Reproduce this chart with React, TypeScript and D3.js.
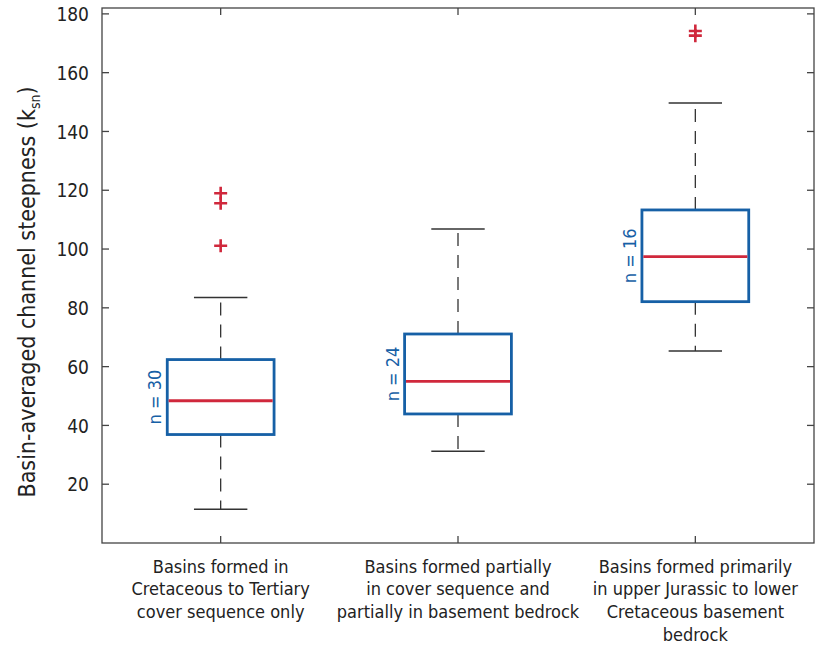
import { useEffect, useRef } from 'react';
import * as d3 from 'd3';

// category labels (one string per line)
const categories = [
  ['Basins formed in', 'Cretaceous to Tertiary', 'cover sequence only'],
  ['Basins formed partially', 'in cover sequence and', 'partially in basement bedrock'],
  ['Basins formed primarily', 'in upper Jurassic to lower', 'Cretaceous basement', 'bedrock'],
];
const counts = [30, 24, 16];
const lowerWhisker = [11.5, 31.2, 65.3];
const q1 = [36.9, 43.9, 82.1];
const medians = [48.4, 55.0, 97.4];
const q3 = [62.4, 71.1, 113.3];
const upperWhisker = [83.5, 106.8, 149.7];
const outliers = [[119.0, 115.6, 101.1], [], [174.2, 172.6]];
const yTicks = [20, 40, 60, 80, 100, 120, 140, 160, 180];

const W = 817;
const H = 646;
const FONT = "'DejaVu Sans Condensed', 'DejaVu Sans', sans-serif";
const BLUE = '#1660a6';
const RED = '#d0283c';

export default function App() {
  const svgRef = useRef<SVGSVGElement>(null);

  useEffect(() => {
    if (!svgRef.current) return;
    const svg = d3.select(svgRef.current);
    svg.selectAll('*').remove();

    const left = 102, right = 814, top = 8, bottom = 543;
    const x = d3.scaleLinear().domain([0.5, 3.5]).range([left, right]);
    const y = d3.scaleLinear().domain([0, 182]).range([bottom, top]);
    const boxW = x(1.45) - x(1);
    const capW = boxW / 2;

    // frame
    svg.append('rect')
      .attr('x', left).attr('y', top)
      .attr('width', right - left).attr('height', bottom - top)
      .attr('fill', 'none').attr('stroke', '#444').attr('stroke-width', 1.3);

    // y ticks both sides
    yTicks.forEach(t => {
      svg.append('line').attr('x1', left).attr('x2', left + 7)
        .attr('y1', y(t)).attr('y2', y(t)).attr('stroke', '#444').attr('stroke-width', 1.3);
      svg.append('line').attr('x1', right).attr('x2', right - 7)
        .attr('y1', y(t)).attr('y2', y(t)).attr('stroke', '#444').attr('stroke-width', 1.3);
      svg.append('text')
        .attr('x', left - 13).attr('y', y(t))
        .attr('dy', '0.38em')
        .attr('text-anchor', 'end')
        .attr('font-family', FONT).attr('font-size', 19).attr('fill', '#222')
        .text(t);
    });

    // x ticks + labels
    categories.forEach((lines, i) => {
      const cx = x(i + 1);
      svg.append('line').attr('x1', cx).attr('x2', cx)
        .attr('y1', bottom).attr('y2', bottom - 7).attr('stroke', '#444').attr('stroke-width', 1.3);
      svg.append('line').attr('x1', cx).attr('x2', cx)
        .attr('y1', top).attr('y2', top + 7).attr('stroke', '#444').attr('stroke-width', 1.3);
      lines.forEach((ln, j) => {
        svg.append('text')
          .attr('x', cx).attr('y', 572.5 + j * 22.8)
          .attr('text-anchor', 'middle')
          .attr('font-family', FONT).attr('font-size', 18).attr('fill', '#222')
          .text(ln);
      });
    });

    // y label
    const yl = svg.append('text')
      .attr('transform', `translate(35, 292) rotate(-90)`)
      .attr('text-anchor', 'middle')
      .attr('font-family', FONT).attr('font-size', 23).attr('fill', '#222');
    yl.append('tspan').text('Basin-averaged channel steepness (k');
    yl.append('tspan').attr('font-size', 14).attr('dy', 5).text('sn');
    yl.append('tspan').attr('dy', -5).text(')');

    // boxes
    categories.forEach((_, i) => {
      const cx = x(i + 1);
      const g = svg.append('g');
      // whiskers
      g.append('line').attr('x1', cx).attr('x2', cx)
        .attr('y1', y(q3[i])).attr('y2', y(upperWhisker[i]))
        .attr('stroke', '#333').attr('stroke-width', 1.3).attr('stroke-dasharray', '13,9');
      g.append('line').attr('x1', cx).attr('x2', cx)
        .attr('y1', y(q1[i])).attr('y2', y(lowerWhisker[i]))
        .attr('stroke', '#333').attr('stroke-width', 1.3).attr('stroke-dasharray', '13,9');
      [upperWhisker[i], lowerWhisker[i]].forEach(v => {
        g.append('line').attr('x1', cx - capW / 2).attr('x2', cx + capW / 2)
          .attr('y1', y(v)).attr('y2', y(v))
          .attr('stroke', '#333').attr('stroke-width', 1.5);
      });
      // box
      g.append('rect')
        .attr('x', cx - boxW / 2).attr('y', y(q3[i]))
        .attr('width', boxW).attr('height', y(q1[i]) - y(q3[i]))
        .attr('fill', 'white').attr('stroke', BLUE).attr('stroke-width', 2.8);
      // median
      g.append('line').attr('x1', cx - boxW / 2 + 1.4).attr('x2', cx + boxW / 2 - 1.4)
        .attr('y1', y(medians[i])).attr('y2', y(medians[i]))
        .attr('stroke', RED).attr('stroke-width', 2.8);
      // outliers
      outliers[i].forEach(v => {
        g.append('path')
          .attr('d', `M${cx - 6.5},${y(v)}H${cx + 6.5}M${cx},${y(v) - 6.5}V${y(v) + 6.5}`)
          .attr('stroke', RED).attr('stroke-width', 2.6).attr('fill', 'none');
      });
      // n label
      const my = (y(q1[i]) + y(q3[i])) / 2;
      g.append('text')
        .attr('transform', `translate(${cx - boxW / 2 - 6}, ${my}) rotate(-90)`)
        .attr('text-anchor', 'middle')
        .attr('font-family', FONT).attr('font-size', 18).attr('fill', BLUE)
        .text(`n = ${counts[i]}`);
    });
  }, []);

  return (
    <svg ref={svgRef} width={W} height={H}
      style={{ position: 'absolute', left: 0, top: 0, background: 'white' }} />
  );
}
